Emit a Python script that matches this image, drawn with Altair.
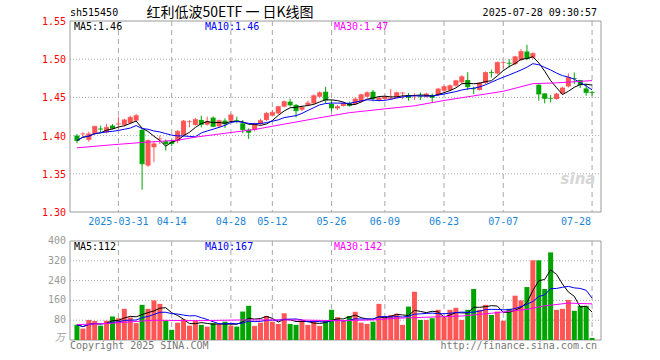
import altair as alt
import pandas as pd

# ---------------- data ----------------
dates = [
    "2025-03-20", "2025-03-21", "2025-03-24", "2025-03-25", "2025-03-26", "2025-03-27", "2025-03-28", "2025-03-31",
    "2025-04-01", "2025-04-02", "2025-04-03", "2025-04-07", "2025-04-08", "2025-04-09", "2025-04-10", "2025-04-11",
    "2025-04-14", "2025-04-15", "2025-04-16", "2025-04-17", "2025-04-18", "2025-04-21", "2025-04-22", "2025-04-23",
    "2025-04-24", "2025-04-25", "2025-04-28", "2025-04-29", "2025-04-30",
    "2025-05-06", "2025-05-07", "2025-05-08", "2025-05-09", "2025-05-12", "2025-05-13", "2025-05-14", "2025-05-15",
    "2025-05-16", "2025-05-19", "2025-05-20", "2025-05-21", "2025-05-22", "2025-05-23", "2025-05-26", "2025-05-27",
    "2025-05-28", "2025-05-29", "2025-05-30",
    "2025-06-03", "2025-06-04", "2025-06-05", "2025-06-06", "2025-06-09", "2025-06-10", "2025-06-11", "2025-06-12",
    "2025-06-13", "2025-06-16", "2025-06-17", "2025-06-18", "2025-06-19", "2025-06-20", "2025-06-23", "2025-06-24",
    "2025-06-25", "2025-06-26", "2025-06-27", "2025-06-30",
    "2025-07-01", "2025-07-02", "2025-07-03", "2025-07-04", "2025-07-07", "2025-07-08", "2025-07-09", "2025-07-10",
    "2025-07-11", "2025-07-14", "2025-07-15", "2025-07-16", "2025-07-17", "2025-07-18", "2025-07-21", "2025-07-22",
    "2025-07-23", "2025-07-24", "2025-07-25", "2025-07-28",
]

open_ = [
    1.4000, 1.4020, 1.3944, 1.4022, 1.4090, 1.4043, 1.4131, 1.4150, 1.4140, 1.4166,
    1.4196, 1.4074, 1.3608, 1.3847, 1.3955, 1.3926, 1.3922, 1.3930, 1.4005, 1.4180,
    1.4140, 1.4205, 1.4144, 1.4235, 1.4121, 1.4196, 1.4196, 1.4200, 1.4161, 1.4078,
    1.4074, 1.4153, 1.4205, 1.4261, 1.4291, 1.4379, 1.4444, 1.4401, 1.4339, 1.4401,
    1.4422, 1.4509, 1.4574, 1.4414, 1.4356, 1.4388, 1.4427, 1.4414, 1.4444, 1.4509,
    1.4574, 1.4466, 1.4479, 1.4480, 1.4500, 1.4555, 1.4531, 1.4518, 1.4520, 1.4509,
    1.4531, 1.4531, 1.4587, 1.4597, 1.4653, 1.4696, 1.4727, 1.4616, 1.4597, 1.4688,
    1.4830, 1.4813, 1.4955, 1.4951, 1.4936, 1.4988, 1.5100, 1.5022, 1.4666, 1.4552,
    1.4490, 1.4479, 1.4552, 1.4644, 1.4750, 1.4727, 1.4617, 1.4570,
]
high = [
    1.4020, 1.4045, 1.4050, 1.4130, 1.4130, 1.4153, 1.4150, 1.4248, 1.4220, 1.4260,
    1.4283, 1.4090, 1.3950, 1.3920, 1.4000, 1.3950, 1.3950, 1.4070, 1.4205, 1.4205,
    1.4230, 1.4261, 1.4248, 1.4250, 1.4210, 1.4226, 1.4291, 1.4248, 1.4205, 1.4095,
    1.4170, 1.4220, 1.4310, 1.4335, 1.4390, 1.4460, 1.4483, 1.4414, 1.4390, 1.4457,
    1.4540, 1.4580, 1.4640, 1.4466, 1.4401, 1.4440, 1.4445, 1.4500, 1.4550, 1.4580,
    1.4597, 1.4510, 1.4520, 1.4610, 1.4575, 1.4570, 1.4557, 1.4557, 1.4565, 1.4560,
    1.4552, 1.4625, 1.4655, 1.4670, 1.4730, 1.4790, 1.4830, 1.4640, 1.4700, 1.4840,
    1.4862, 1.4970, 1.4970, 1.5001, 1.5045, 1.5132, 1.5188, 1.5090, 1.4670, 1.4555,
    1.4531, 1.4560, 1.4640, 1.4813, 1.4826, 1.4730, 1.4675, 1.4587,
]
low = [
    1.3900, 1.3980, 1.3920, 1.4010, 1.4043, 1.4030, 1.4080, 1.4087, 1.4120, 1.4150,
    1.4180, 1.3291, 1.3590, 1.3651, 1.3890, 1.3804, 1.3860, 1.3900, 1.3990, 1.4108,
    1.4130, 1.4108, 1.4130, 1.4110, 1.4100, 1.4100, 1.4180, 1.4161, 1.4030, 1.3957,
    1.4056, 1.4140, 1.4190, 1.4250, 1.4280, 1.4370, 1.4379, 1.4239, 1.4320, 1.4390,
    1.4410, 1.4500, 1.4422, 1.4317, 1.4335, 1.4380, 1.4380, 1.4400, 1.4430, 1.4500,
    1.4448, 1.4450, 1.4460, 1.4470, 1.4490, 1.4479, 1.4457, 1.4466, 1.4466, 1.4500,
    1.4435, 1.4520, 1.4570, 1.4580, 1.4640, 1.4680, 1.4597, 1.4544, 1.4590, 1.4675,
    1.4761, 1.4800, 1.4879, 1.4892, 1.4920, 1.4975, 1.4988, 1.5001, 1.4457, 1.4422,
    1.4435, 1.4470, 1.4540, 1.4630, 1.4675, 1.4623, 1.4522, 1.4522,
]
close = [
    1.3935, 1.4022, 1.4022, 1.4121, 1.4085, 1.4108, 1.4095, 1.4153, 1.4205, 1.4239,
    1.4261, 1.3631, 1.3935, 1.3892, 1.3957, 1.3892, 1.3895, 1.4057, 1.4190, 1.4183,
    1.4209, 1.4148, 1.4187, 1.4121, 1.4196, 1.4153, 1.4270, 1.4196, 1.4078, 1.4043,
    1.4153, 1.4196, 1.4291, 1.4304, 1.4379, 1.4444, 1.4401, 1.4326, 1.4369, 1.4427,
    1.4522, 1.4561, 1.4466, 1.4362, 1.4379, 1.4422, 1.4392, 1.4479, 1.4535, 1.4561,
    1.4487, 1.4492, 1.4505, 1.4487, 1.4561, 1.4557, 1.4500, 1.4522, 1.4516, 1.4544,
    1.4500, 1.4610, 1.4640, 1.4653, 1.4718, 1.4770, 1.4640, 1.4612, 1.4688, 1.4826,
    1.4826, 1.4957, 1.4957, 1.4947, 1.5031, 1.5100, 1.5009, 1.5074, 1.4544, 1.4487,
    1.4487, 1.4544, 1.4623, 1.4761, 1.4748, 1.4666, 1.4565, 1.4565,
]
volume = [
    62, 46, 81, 77, 58, 78, 95, 88, 126, 91,
    68, 142, 126, 160, 146, 78, 41, 70, 84, 58,
    78, 61, 54, 68, 65, 74, 58, 54, 115, 138,
    57, 70, 97, 74, 65, 108, 65, 61, 78, 61,
    78, 57, 78, 122, 92, 78, 97, 114, 70, 65,
    74, 146, 92, 101, 106, 61, 135, 195, 81, 81,
    88, 122, 92, 122, 130, 81, 122, 206, 122, 142,
    101, 115, 78, 126, 179, 160, 214, 322, 322, 206,
    354, 122, 126, 162, 118, 138, 138, 8,
]

# 30-day averages (they need history before the window)
ma30_idx = [0, 6, 11, 17, 20, 26, 30, 35, 40, 46, 52, 57, 62, 67, 72, 77, 81, 87]
ma30_val = [1.384, 1.388, 1.391, 1.394, 1.398, 1.404, 1.408, 1.415, 1.422, 1.430,
            1.435, 1.439, 1.446, 1.452, 1.458, 1.468, 1.469, 1.472]
vma30_idx = [0, 6, 13, 20, 28, 37, 44, 50, 54, 59, 65, 70, 76, 79, 83, 87]
vma30_val = [62, 68, 80, 78, 81, 81, 78, 81, 88, 92, 97, 108, 124, 138, 149, 146]

price_ticks = [1.55, 1.50, 1.45, 1.40, 1.35, 1.30]
price_grid = [1.50, 1.45, 1.40, 1.35]
vol_ticks = [400, 320, 240, 160, 80]
vol_grid = [320, 240, 160, 80]
date_ticks = ["2025-03-31", "2025-04-14", "2025-04-28", "2025-05-12", "2025-05-26",
              "2025-06-09", "2025-06-23", "2025-07-07", "2025-07-28"]
date_labels = ["2025-03-31", "04-14", "04-28", "05-12", "05-26", "06-09", "06-23", "07-07", "07-28"]

code = "sh515450"
title = "红利低波50ETF 一 日K线图"
stamp = "2025-07-28 09:30:57"
price_ma_labels = ["MA5:1.46", "MA10:1.46", "MA30:1.47"]
vol_ma_labels = ["MA5:112", "MA10:167", "MA30:142"]

# ---------------- layout / style ----------------
W, H = 531, 319
PH = 191            # price panel height
VT, VB = 220, 319   # volume panel top / bottom
RED, GREEN = "#ff5555", "#00a400"
MONO = "DejaVu Sans Mono"
GRID = "#a8a8a8"

n = len(dates)
df = pd.DataFrame({
    "i": list(range(n)), "date": dates, "open": open_, "high": high,
    "low": low, "close": close, "volume": volume,
})
df["dir"] = ["up" if c >= o else "down" for o, c in zip(open_, close)]

ma30_df = pd.DataFrame({"i": ma30_idx, "v": ma30_val})
vma30_df = pd.DataFrame({"i": vma30_idx, "v": vma30_val})
tick_df = pd.DataFrame({"i": [dates.index(d) for d in date_ticks], "lab": date_labels})
one = pd.DataFrame({"a": [0]})

xs = alt.Scale(domain=[-0.3314, 87.663], nice=False, zero=False)
ps = alt.Scale(domain=[1.55 - 0.25 * H / PH, 1.55], nice=False, zero=False)
vs = alt.Scale(domain=[0, 400 * H / (VB - VT)], nice=False, zero=False)
X = alt.X("i:Q", scale=xs, axis=None)
col = alt.Color("dir:N", scale=alt.Scale(domain=["up", "down"], range=[RED, GREEN]), legend=None)

layers = []

# frames
for y0, y1 in [(0, PH), (VT, VB)]:
    layers.append(alt.Chart(one).mark_rect(fill="white", stroke="#9a9a9a", strokeWidth=1).encode(
        x=alt.value(0), x2=alt.value(W), y=alt.value(y0), y2=alt.value(y1)))

# horizontal grids
layers.append(alt.Chart(pd.DataFrame({"v": price_grid})).mark_rule(color=GRID, strokeDash=[1, 2]).encode(
    y=alt.Y("v:Q", scale=ps, axis=None), x=alt.value(0), x2=alt.value(W)))
layers.append(alt.Chart(pd.DataFrame({"v": vol_grid})).mark_rule(color=GRID, strokeDash=[1, 2]).encode(
    y=alt.Y("v:Q", scale=vs, axis=None), x=alt.value(0), x2=alt.value(W)))

# vertical date grids
for y0, y1 in [(0, PH), (VT, VB)]:
    layers.append(alt.Chart(tick_df).mark_rule(color=GRID, strokeDash=[5, 4]).encode(
        x=X, y=alt.value(y0), y2=alt.value(y1)))

# watermark
layers.append(alt.Chart(one).mark_text(text="sina", font="DejaVu Sans", fontSize=15, fontStyle="italic",
                                       fontWeight="bold", color="#d6d6d6", align="center", baseline="middle").encode(
    x=alt.value(508), y=alt.value(158)))

# candles
base = alt.Chart(df)
layers.append(base.mark_rule(strokeWidth=1).encode(
    x=X, y=alt.Y("low:Q", scale=ps, axis=None), y2="high:Q", color=col))
layers.append(base.mark_bar(size=5).encode(
    x=X, y=alt.Y("open:Q", scale=ps, axis=None), y2="close:Q", color=col))
layers.append(base.mark_tick(orient="horizontal", size=5, thickness=1).encode(
    x=X, y=alt.Y("close:Q", scale=ps, axis=None), color=col))

# price moving averages
layers.append(base.transform_window(ma5="mean(close)", frame=[-4, 0], sort=[alt.SortField("i")]).mark_line(
    color="#000000", strokeWidth=1).encode(x=X, y=alt.Y("ma5:Q", scale=ps, axis=None)))
layers.append(base.transform_window(ma10="mean(close)", frame=[-9, 0], sort=[alt.SortField("i")]).mark_line(
    color="#0000ff", strokeWidth=1).encode(x=X, y=alt.Y("ma10:Q", scale=ps, axis=None)))
layers.append(alt.Chart(ma30_df).mark_line(color="#ff00ff", strokeWidth=1).encode(
    x=X, y=alt.Y("v:Q", scale=ps, axis=None)))

# volume bars
layers.append(base.mark_bar(size=5).encode(
    x=X, y=alt.Y("volume:Q", scale=vs, axis=None, stack=None), color=col))

# volume moving averages
layers.append(base.transform_window(vma5="mean(volume)", frame=[-4, 0], sort=[alt.SortField("i")]).mark_line(
    color="#000000", strokeWidth=1).encode(x=X, y=alt.Y("vma5:Q", scale=vs, axis=None)))
layers.append(base.transform_window(vma10="mean(volume)", frame=[-9, 0], sort=[alt.SortField("i")]).mark_line(
    color="#0000ff", strokeWidth=1).encode(x=X, y=alt.Y("vma10:Q", scale=vs, axis=None)))
layers.append(alt.Chart(vma30_df).mark_line(color="#ff00ff", strokeWidth=1).encode(
    x=X, y=alt.Y("v:Q", scale=vs, axis=None)))

# axis labels
layers.append(alt.Chart(pd.DataFrame({"v": price_ticks})).mark_text(
    align="right", baseline="middle", font=MONO, fontSize=10, color="#ff0000", dy=1).encode(
    y=alt.Y("v:Q", scale=ps, axis=None), x=alt.value(-4), text=alt.Text("v:Q", format=".2f")))
layers.append(alt.Chart(pd.DataFrame({"v": vol_ticks})).mark_text(
    align="right", baseline="middle", font=MONO, fontSize=10, color="#999999").encode(
    y=alt.Y("v:Q", scale=vs, axis=None), x=alt.value(-4), text=alt.Text("v:Q", format="d")))
layers.append(alt.Chart(pd.DataFrame({"v": [0], "t": ["万"]})).mark_text(
    align="right", baseline="middle", font="Noto Sans CJK SC", fontSize=10, fontStyle="italic",
    color="#999999", dy=-2).encode(y=alt.Y("v:Q", scale=vs, axis=None), x=alt.value(-5), text="t:N"))

lab_main = tick_df.iloc[:-1]
lab_last = tick_df.iloc[-1:]
layers.append(alt.Chart(lab_main).mark_text(
    align="center", baseline="middle", font=MONO, fontSize=10, color="#1a86d8").encode(
    x=X, y=alt.value(PH + 10), text="lab:N"))
layers.append(alt.Chart(lab_last).mark_text(
    align="right", baseline="middle", font=MONO, fontSize=10, color="#1a86d8", dx=-1).encode(
    x=X, y=alt.value(PH + 10), text="lab:N"))


def txt(s, x, y, color="#000000", align="left", size=10, font=MONO):
    return alt.Chart(one).mark_text(text=s, align=align, baseline="middle", font=font,
                                    fontSize=size, color=color).encode(x=alt.value(x), y=alt.value(y))


ma_colors = ["#000000", "#0000ff", "#ff00ff"]
ma_x = [4, 135, 264]
for s, c, x in zip(price_ma_labels, ma_colors, ma_x):
    layers.append(txt(s, x, 6, c))
for s, c, x in zip(vol_ma_labels, ma_colors, ma_x):
    layers.append(txt(s, x, VT + 6, c))

layers.append(txt(code, 0, -8))
layers.append(txt(title, 160, -8, align="center", size=14, font="Noto Sans CJK SC"))
layers.append(txt(stamp, 527, -8, align="right"))
layers.append(txt("Copyright 2025 SINA.COM", 0, VB + 6, color="#777777"))
layers.append(txt("http://finance.sina.com.cn", 527, VB + 6, color="#777777", align="right"))

chart = alt.layer(*layers).resolve_scale(y="independent").properties(
    width=W, height=H,
    padding={"left": 70, "top": 21, "right": 59, "bottom": 20},
    autosize=alt.AutoSizeParams(type="none"),
    background="white",
).configure_view(stroke=None)

chart.save("out.html", embed_options={"renderer": "svg", "actions": False})
